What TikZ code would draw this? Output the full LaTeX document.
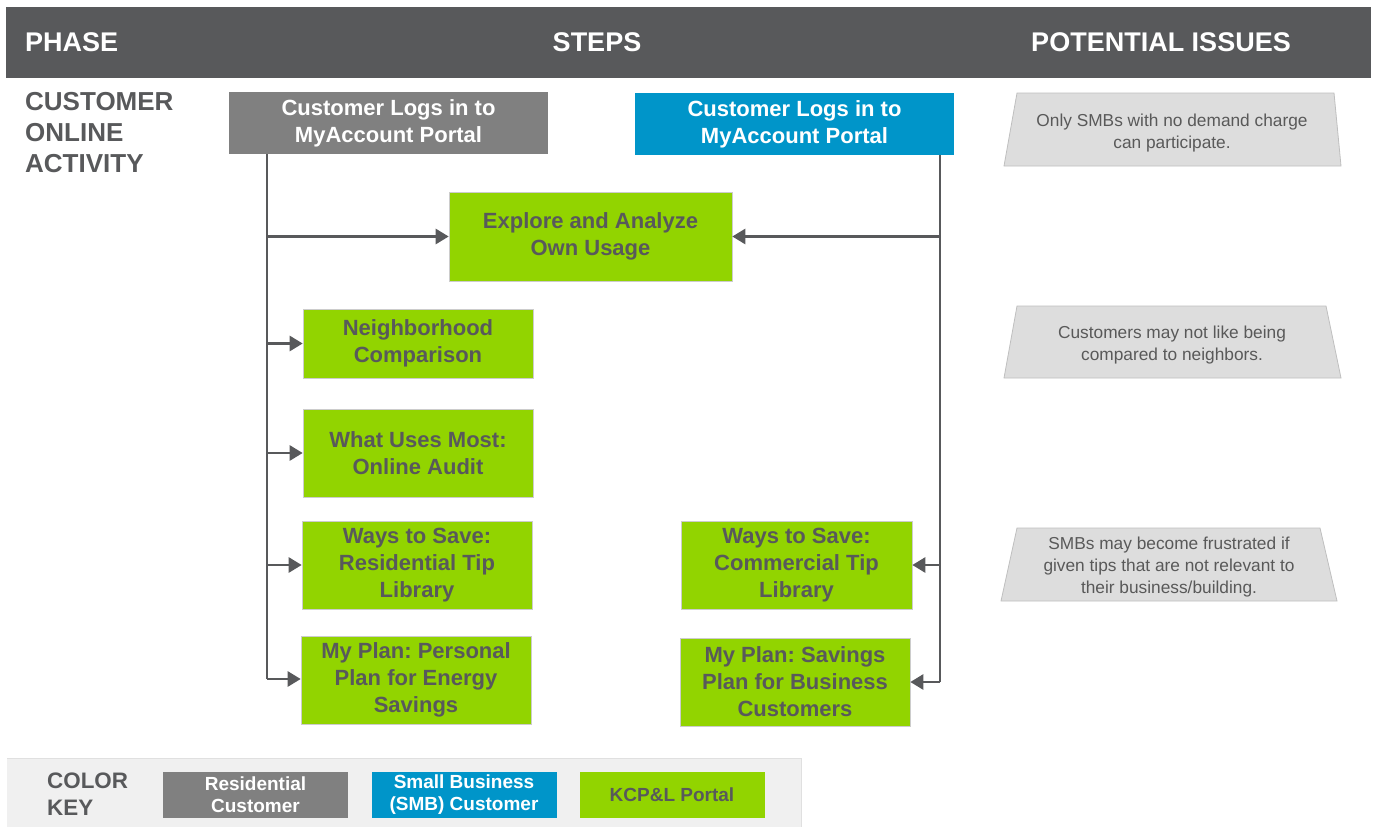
\documentclass[tikz,border=0pt]{standalone}
\usepackage{fontspec}
\setmainfont{Liberation Sans}
\frenchspacing
\usetikzlibrary{arrows.meta}
\definecolor{hdr}{HTML}{58595B}
\definecolor{resgray}{HTML}{808080}
\definecolor{smbblue}{HTML}{0095C9}
\definecolor{portal}{HTML}{92D400}
\definecolor{issuefill}{HTML}{DDDDDD}
\definecolor{issueline}{HTML}{BFBFBF}
\definecolor{issuetext}{HTML}{595959}
\definecolor{keyfill}{HTML}{F0F0F0}
\tikzset{
  box/.style={rectangle, inner sep=0pt, align=center, font=\fontsize{22}{27}\selectfont\bfseries},
  resbox/.style={box, fill=resgray, text=white},
  smbbox/.style={box, fill=smbblue, text=white},
  portalbox/.style={box, fill=portal, text=hdr, draw=black!20, line width=0.6pt},
  conn/.style={draw=hdr, line width=2.6pt},
  arr/.style={conn, -{Triangle[length=13pt,width=15pt]}},
  issue/.style={fill=issuefill, draw=issueline, line width=0.8pt},
  issuetxt/.style={align=center, text=issuetext, font=\fontsize{17.3}{22}\selectfont},
  keybox/.style={rectangle, inner sep=0pt, align=center, minimum width=185pt, minimum height=46pt, font=\fontsize{19}{22}\selectfont\bfseries},
  hdrtxt/.style={text=white, inner sep=0pt, font=\fontsize{27}{30}\selectfont\bfseries},
}
\begin{document}
\begin{tikzpicture}[x=1pt,y=-1pt]
\useasboundingbox (0,0) rectangle (1378,827);
% header
\fill[hdr] (6,7) rectangle (1371,78);
\node[hdrtxt, anchor=west] (hphase) at (25,42) {PHASE};
\node[hdrtxt] (hsteps) at (597,42) {STEPS};
\node[hdrtxt] (hissues) at (1161,42) {POTENTIAL ISSUES};
% phase label
\node[anchor=north west, align=left, text=hdr, inner sep=0pt, font=\fontsize{26}{31}\selectfont\bfseries] (phase) at (25,92) {CUSTOMER\\ONLINE\\ACTIVITY};
% login boxes
\node[resbox, minimum width=319pt, minimum height=62pt] (res) at (388.5,123) {Customer Logs in to\\MyAccount Portal};
\node[smbbox, minimum width=319pt, minimum height=62pt] (smb) at (794.5,124) {Customer Logs in to\\MyAccount Portal};
% portal steps
\node[portalbox, minimum width=283pt, minimum height=89pt] (explore) at (590.5,236.5) {Explore and Analyze\\Own Usage};
\node[portalbox, minimum width=230pt, minimum height=69pt] (neigh) at (418,343.5) {Neighborhood\\Comparison};
\node[portalbox, minimum width=230pt, minimum height=88pt] (audit) at (418,453) {What Uses Most:\\Online Audit};
\node[portalbox, minimum width=230pt, minimum height=88pt] (waysres) at (417,565) {Ways to Save:\\Residential Tip\\Library};
\node[portalbox, minimum width=230pt, minimum height=88pt] (planres) at (416,680) {My Plan: Personal\\Plan for Energy\\Savings};
\node[portalbox, minimum width=231pt, minimum height=88pt] (wayscom) at (796.5,565) {Ways to Save:\\Commercial Tip\\Library};
\node[portalbox, minimum width=230pt, minimum height=88pt] (plancom) at (795,682) {My Plan: Savings\\Plan for Business\\Customers};
% connectors left
\coordinate (Ltop) at (267,154);
\coordinate (Lbot) at (267,679);
\draw[conn] (Ltop) -- (Lbot);
\draw[arr] (Ltop |- explore) -- (explore.west);
\draw[arr] (Ltop |- neigh) -- (neigh.west);
\draw[arr] (Ltop |- audit) -- (audit.west);
\draw[arr] (Ltop |- waysres) -- (waysres.west);
\draw[arr] (Lbot) -- (Lbot -| planres.west);
% connectors right
\coordinate (Rtop) at (940,155);
\coordinate (Rbot) at (940,682);
\draw[conn] (Rtop) -- (Rbot);
\draw[arr] (Rtop |- explore) -- (explore.east);
\draw[arr] (Rtop |- wayscom) -- (wayscom.east);
\draw[arr] (Rbot) -- (plancom.east);
% issues
\draw[issue] (1017,93) -- (1334,93) -- (1341,166) -- (1004,166) -- cycle;
\node[issuetxt] (iss1) at (1172,133) {Only SMBs with no demand charge\\can participate.};
\draw[issue] (1017,306) -- (1326,306) -- (1341,378) -- (1004,378) -- cycle;
\node[issuetxt] (iss2) at (1172,345) {Customers may not like being\\compared to neighbors.};
\draw[issue] (1017,528) -- (1320,528) -- (1337,601) -- (1001,601) -- cycle;
\node[issuetxt] (iss3) at (1169,567) {SMBs may become frustrated if\\given tips that are not relevant to\\their business/building.};
% color key
\fill[keyfill] (7,758) rectangle (801,827);
\draw[black!12, line width=0.8pt] (7,758) -- (801,758) -- (801,827);
\node[anchor=north west, align=left, text=hdr, inner sep=0pt, font=\fontsize{22.4}{27}\selectfont\bfseries] (keylbl) at (47,773) {COLOR\\KEY};
\node[keybox, fill=resgray, text=white] (kres) at (255.5,795) {Residential\\Customer};
\node[keybox, fill=smbblue, text=white] (ksmb) at (464,795) {Small Business\\(SMB) Customer};
\node[keybox, fill=portal, text=hdr] (kportal) at (672,795) {KCP\&L Portal};
\end{tikzpicture}
\end{document}
